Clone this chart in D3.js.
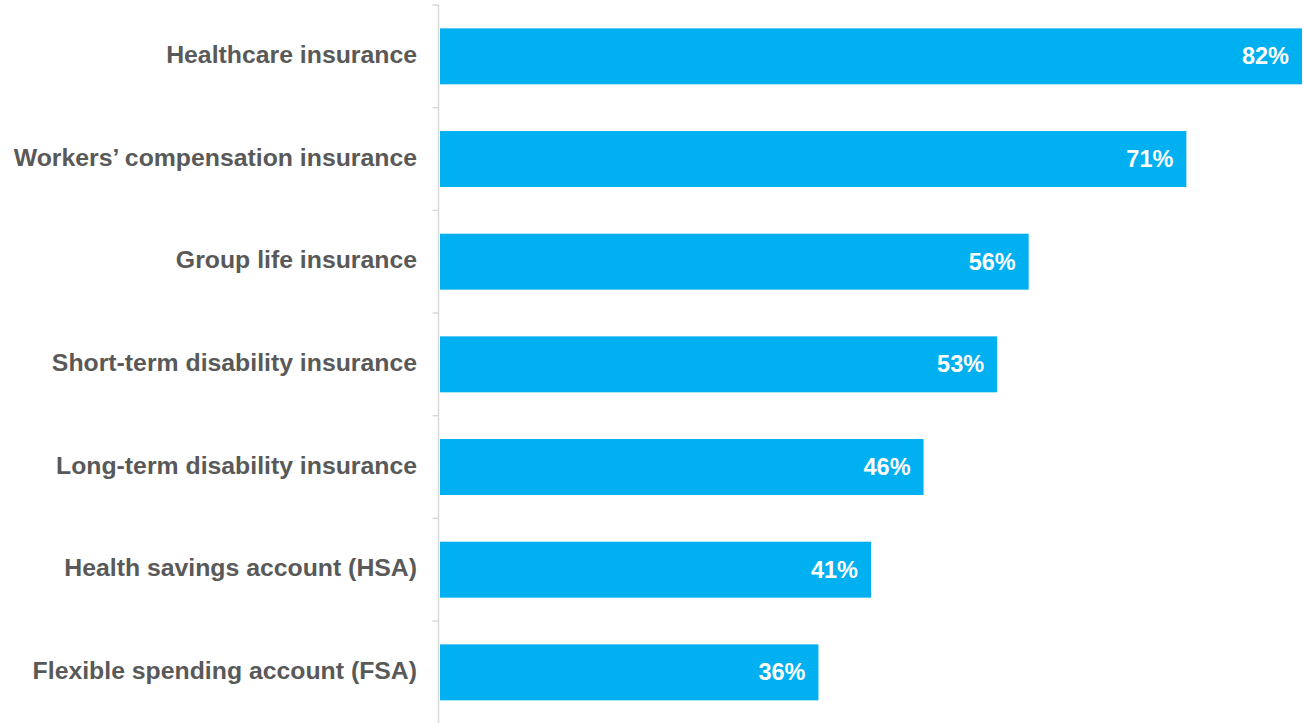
<!DOCTYPE html>
<html>
<head>
<meta charset="utf-8">
<script src="https://cdn.jsdelivr.net/npm/d3@7"></script>
<style>
  html, body { margin: 0; padding: 0; background: #ffffff; }
  svg { display: block; }
</style>
</head>
<body>
<svg id="chart" width="1304" height="723"></svg>
<script>
// Share of employers offering each benefit
const categories = [
  "Healthcare insurance",
  "Workers\u2019 compensation insurance",
  "Group life insurance",
  "Short-term disability insurance",
  "Long-term disability insurance",
  "Health savings account (HSA)",
  "Flexible spending account (FSA)"
];
const values = [82, 71, 56, 53, 46, 41, 36];

const svg = d3.select("#chart");
const axisX = 438.5;

const x = d3.scaleLinear().domain([0, 82]).range([440, 1302]);
const y = d3.scaleBand().domain(categories).range([5, 723.7]).paddingInner(0.455).paddingOuter(0.2275);

// Category boundary ticks along the vertical axis
const step = y.step();
const boundaries = d3.range(categories.length + 1).map(i => 5 + i * step);

svg.append("line")
  .attr("x1", axisX).attr("x2", axisX)
  .attr("y1", 5).attr("y2", 723)
  .attr("stroke", "#d9d9d9").attr("stroke-width", 1.5);

svg.selectAll("line.tick").data(boundaries).join("line")
  .attr("class", "tick")
  .attr("x1", axisX - 6).attr("x2", axisX)
  .attr("y1", d => d).attr("y2", d => d)
  .attr("stroke", "#d9d9d9").attr("stroke-width", 1.5);

// Bars
svg.selectAll("rect.bar").data(values).join("rect")
  .attr("class", "bar")
  .attr("x", x(0))
  .attr("y", (d, i) => y(categories[i]))
  .attr("width", d => x(d) - x(0))
  .attr("height", y.bandwidth())
  .attr("fill", "#00b0f0");

// Value labels inside bar ends
svg.selectAll("text.val").data(values).join("text")
  .attr("class", "val")
  .attr("x", d => x(d) - 13)
  .attr("y", (d, i) => y(categories[i]) + y.bandwidth() / 2)
  .attr("dy", "0.34em")
  .attr("text-anchor", "end")
  .attr("font-family", "Liberation Sans, Arial, sans-serif")
  .attr("font-weight", "bold")
  .attr("font-size", 23.5)
  .attr("fill", "#ffffff")
  .text(d => d + "%");

// Category labels
svg.selectAll("text.cat").data(categories).join("text")
  .attr("class", "cat")
  .attr("x", 417)
  .attr("y", d => y(d) + y.bandwidth() / 2)
  .attr("dy", "0.27em")
  .attr("text-anchor", "end")
  .attr("font-family", "Liberation Sans, Arial, sans-serif")
  .attr("font-weight", "bold")
  .attr("font-size", 24.8)
  .attr("fill", "#595959")
  .text(d => d);
</script>
</body>
</html>
